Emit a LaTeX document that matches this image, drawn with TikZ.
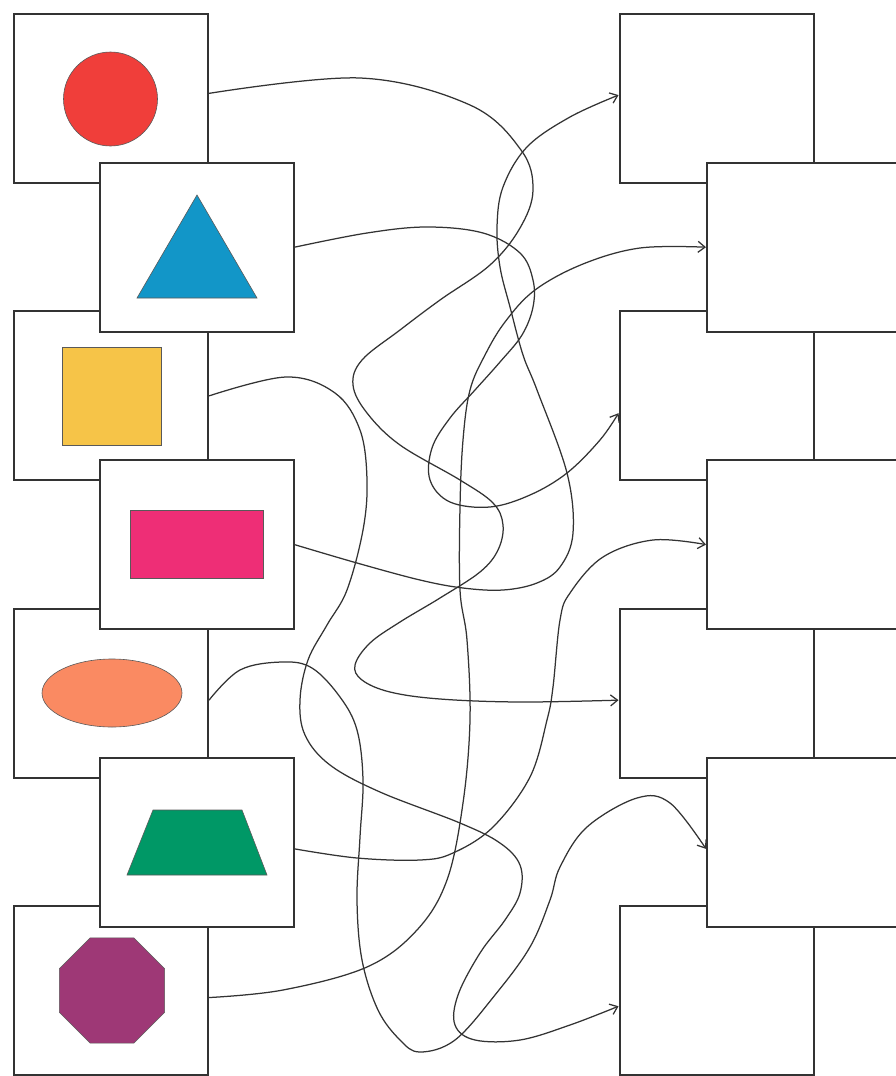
\documentclass[tikz,border=0pt]{standalone}
\usepackage{tikz}
\usetikzlibrary{arrows.meta, positioning, shapes.geometric}
\definecolor{shapeRed}{RGB}{240, 62, 58}
\definecolor{shapeBlue}{RGB}{18, 150, 200}
\definecolor{shapeYellow}{RGB}{246, 196, 72}
\definecolor{shapePink}{RGB}{238, 46, 118}
\definecolor{shapeSalmon}{RGB}{250, 138, 98}
\definecolor{shapeGreen}{RGB}{0, 152, 102}
\definecolor{shapePurple}{RGB}{158, 56, 118}

\begin{document}
\begin{tikzpicture}[x=1pt, y=-1pt,
  card/.style={draw=black!80, line width=2pt, fill=white,
    minimum width=194pt, minimum height=169pt, inner sep=0pt},
  outline/.style={draw=black!65, line width=0.6pt},
  maze/.style={draw=black!80, line width=1.25pt,
    -{Straight Barb[length=7pt, width=11pt]}}]
  \def\xa{111}   \def\xb{196.5}   % left columns
  \def\xc{716.5} \def\xd{804}     % right columns
  \useasboundingbox (0,0) rectangle (896,1076);

  % Left cards (back row, then front row)
  \node[card] (circ) at (\xa, 98.5)  {};
  \node[card] (squa) at (\xa, 395.9) {};
  \node[card] (elli) at (\xa, 693.3) {};
  \node[card] (octa) at (\xa, 990.7) {};
  \node[card] (tria) at (\xb, 247.2) {};
  \node[card] (rect) at (\xb, 544.6) {};
  \node[card] (trap) at (\xb, 842)   {};

  % Right cards (empty)
  \node[card] (ans1) at (\xc, 98.5)  {};
  \node[card] (ans3) at (\xc, 395.9) {};
  \node[card] (ans5) at (\xc, 693.3) {};
  \node[card] (ans7) at (\xc, 990.7) {};
  \node[card] (ans2) at (\xd, 247.2) {};
  \node[card] (ans4) at (\xd, 544.6) {};
  \node[card] (ans6) at (\xd, 842)   {};

  % Shapes
  \filldraw[outline, fill=shapeRed] (110.5, 99) circle[radius=47];
  \filldraw[outline, fill=shapeBlue] (197,195) -- (257,298) -- (137,298) -- cycle;
  \filldraw[outline, fill=shapeYellow] (62,347) rectangle (161,445);
  \filldraw[outline, fill=shapePink] (130,510) rectangle (263,578);
  \filldraw[outline, fill=shapeSalmon] (112,693) ellipse (70 and 34);
  \filldraw[outline, fill=shapeGreen] (153,810) -- (242,810) -- (267,875)
    -- (127,875) -- cycle;
  \node[outline, fill=shapePurple, regular polygon, regular polygon sides=8,
    minimum size=114pt, inner sep=0pt] (oct) at (112,990.5) {};

  % Tangled lines
  \draw[maze] plot[smooth, tension=0.6] coordinates {(circ.3) (360,78)
    (470,105) (521,150) (533,190) (520,228) (490,265) (440,300) (400,330)
    (362,360) (353,385) (367,413) (400,445) (460,480) (493,503) (503,525)
    (498,550) (480,572) (440,598) (400,622) (370,643) (355,665) (362,680)
    (390,692) (440,699) (520,702) (ans5.184)};
  \draw[maze] plot[smooth, tension=0.6] coordinates {(tria.east) (367,233)
    (427,227) (483,233) (520,253) (533,280) (533,307) (522,335) (500,362)
    (475,390) (450,418) (432,448) (430,480) (450,502) (490,507) (530,495)
    (567,473) (600,440) (ans3.190)};
  \draw[maze] plot[smooth, tension=0.6] coordinates {(squa.east) (286,377)
    (335,393) (360,430) (367,480) (363,530) (347,590) (327,625) (308,660)
    (300,700) (305,735) (330,765) (380,792) (460,823) (500,843) (520,865)
    (520,893) (505,920) (480,953) (458,995) (455,1025) (475,1040)
    (520,1040) (570,1025) (ans7.189)};
  \draw[maze] plot[smooth, tension=0.6] coordinates {(rect.east) (357,563)
    (420,580) (463,588) (503,590) (537,583) (560,567) (573,533) (567,473)
    (537,390) (523,355) (510,307) (500,267) (497,227) (503,187) (527,147)
    (570,117) (ans1.178)};
  \draw[maze] plot[smooth, tension=0.6] coordinates {(elli.-4) (240,670)
    (282,662) (312,668) (340,697) (357,730) (363,780) (360,837) (357,900)
    (362,960) (378,1010) (400,1040) (420,1052) (455,1040) (495,995)
    (530,947) (550,900) (560,867) (587,827) (637,798) (670,803) (ans6.184)};
  \draw[maze] plot[smooth, tension=0.6] coordinates {(trap.-4) (357,858)
    (420,860) (453,853) (493,827) (530,777) (547,720) (553,687) (560,620)
    (570,593) (603,557) (653,540) (ans4.west)};
  \draw[maze] plot[smooth, tension=0.6] coordinates {(octa.-4) (283,990)
    (367,967) (417,930) (447,880) (463,803) (470,720) (467,640) (460,590)
    (460,507) (463,440) (470,390) (485,355) (505,322) (535,290) (583,264)
    (640,248) (ans2.west)};
\end{tikzpicture}
\end{document}
